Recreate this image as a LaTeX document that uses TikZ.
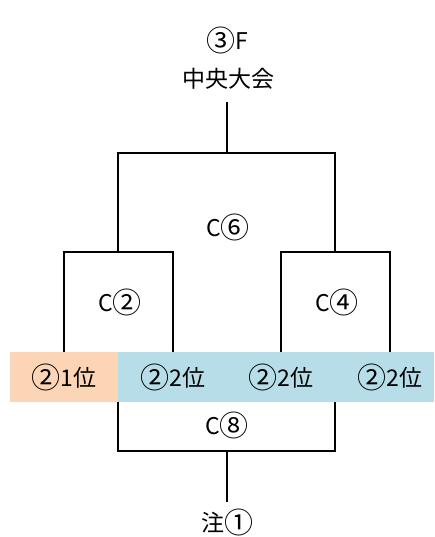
\documentclass[tikz,border=0pt]{standalone}
\usepackage{fontspec}
\setmainfont{Noto Sans CJK JP}
\usepackage{tikz}
\usetikzlibrary{positioning}
\definecolor{rankorange}{HTML}{FBD5B5}
\definecolor{rankblue}{HTML}{B7DDE8}
\newcommand{\cnum}[1]{{\fontsize{29}{29}\selectfont\raisebox{-1.5pt}{#1}}}

\begin{document}
\begin{tikzpicture}[x=1pt,y=-1pt,
	bracket/.style={line width=2pt},
	lbl/.style={font=\fontsize{23}{25}\selectfont,inner sep=0pt}]
	\useasboundingbox (0,0) rectangle (434,537);
	\fill[rankorange] (10,352) rectangle (118,402);
	\fill[rankblue] (118,352) rectangle (434,402);
	\node[lbl] (floor) at (227,40) {\cnum{③}F};
	\node[lbl] (final) at (228,79) {中央大会};
	\node[lbl] (c6) at (228,227) {C\cnum{⑥}};
	\node[lbl] (c2) at (120,302) {C\cnum{②}};
	\node[lbl] (c4) at (337,302) {C\cnum{④}};
	\node[lbl] (r1) at (64,377) {\cnum{②}1位};
	\node[lbl] (r2) at (173,377) {\cnum{②}2位};
	\node[lbl] (r3) at (281,377) {\cnum{②}2位};
	\node[lbl] (r4) at (390,377) {\cnum{②}2位};
	\node[lbl] (c8) at (227,425) {C\cnum{⑧}};
	\node[lbl] (note) at (227,522) {注\cnum{①}};
	\coordinate (top6) at (227,102);
	\coordinate (j6) at (227,153);
	\coordinate (l6) at (118,153);
	\coordinate (r6) at (335,153);
	\coordinate (j2) at (118,252);
	\coordinate (j4) at (335,252);
	\coordinate (l8) at (118,402);
	\coordinate (r8) at (335,402);
	\coordinate (j8) at (227,451);
	\coordinate (bot8) at (227,502);
	\draw[bracket] (top6) -- (j6);
	\draw[bracket] (j2) -- (l6) -- (r6) -- (j4);
	\draw[bracket] (r1.center |- 0,352) |- (j2) -| (r2.center |- 0,352);
	\draw[bracket] (r3.center |- 0,352) |- (j4) -| (r4.center |- 0,352);
	\draw[bracket] (l8) |- (j8) -| (r8);
	\draw[bracket] (j8) -- (bot8);
\end{tikzpicture}
\end{document}
